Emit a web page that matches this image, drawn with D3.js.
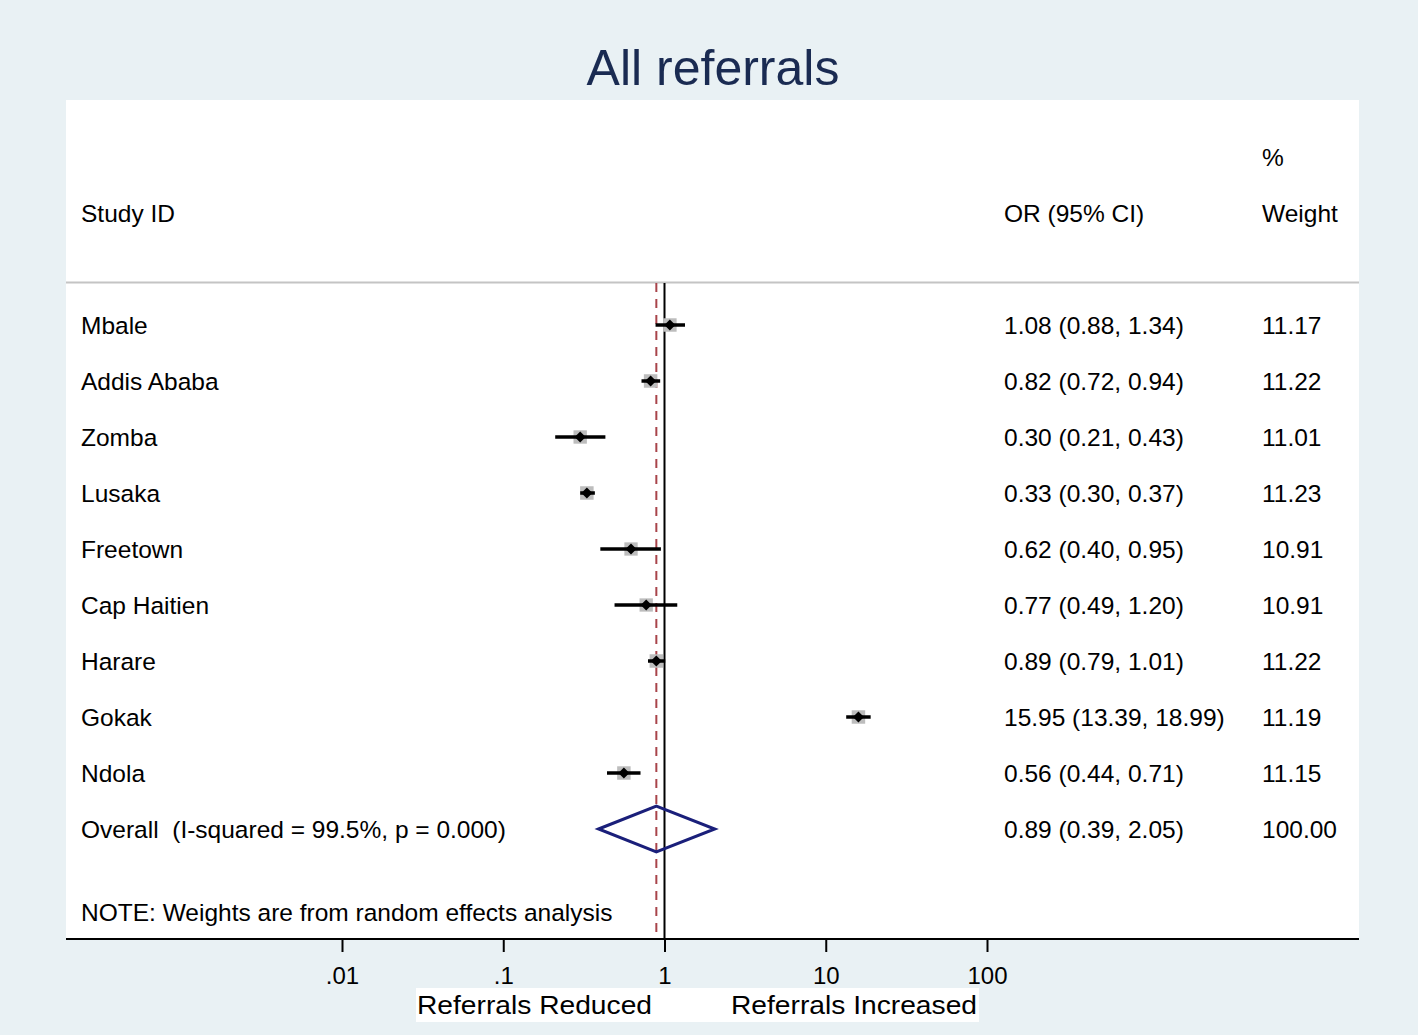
<!DOCTYPE html>
<html>
<head>
<meta charset="utf-8">
<script src="https://cdn.jsdelivr.net/npm/d3@7"></script>
<style>
  html, body { margin: 0; padding: 0; background: #e9f1f4; }
  svg { display: block; font-family: "Liberation Sans", Arial, sans-serif; }
</style>
</head>
<body>
<svg id="chart" width="1418" height="1035"></svg>
<script>
const studies = ["Mbale", "Addis Ababa", "Zomba", "Lusaka", "Freetown", "Cap Haitien", "Harare", "Gokak", "Ndola"];
const orValues = [1.08, 0.82, 0.30, 0.33, 0.62, 0.77, 0.89, 15.95, 0.56];
const ciLow = [0.88, 0.72, 0.21, 0.30, 0.40, 0.49, 0.79, 13.39, 0.44];
const ciHigh = [1.34, 0.94, 0.43, 0.37, 0.95, 1.20, 1.01, 18.99, 0.71];
const weights = [11.17, 11.22, 11.01, 11.23, 10.91, 10.91, 11.22, 11.19, 11.15];
const overall = { label: "Overall  (I-squared = 99.5%, p = 0.000)", or: 0.89, lo: 0.39, hi: 2.05, weight: 100.00 };
const tickValues = [0.01, 0.1, 1, 10, 100];
const tickLabels = [".01", ".1", "1", "10", "100"];

const svg = d3.select("#chart");
const W = 1418, H = 1035;
svg.append("rect").attr("width", W).attr("height", H).attr("fill", "#e9f1f4");

const panel = { left: 66, right: 1359, top: 100, bottom: 939 };
svg.append("rect")
  .attr("x", panel.left).attr("y", panel.top)
  .attr("width", panel.right - panel.left).attr("height", panel.bottom - panel.top)
  .attr("fill", "#ffffff");

// Title
svg.append("text").attr("x", 713).attr("y", 85).attr("text-anchor", "middle")
  .attr("font-size", 50).attr("fill", "#1a2b52").text("All referrals");

// x scale (log)
const x = d3.scaleLog().domain([0.01, 100]).range([342, 987]);

// row scale
const rowKeys = studies.concat(["Overall"]);
const y = d3.scalePoint().domain(rowKeys).range([325, 829]);

const textColor = "#000000";
const fs = 24.5;

// Header
const headerY = 222;
svg.append("text").attr("x", 81).attr("y", headerY).attr("font-size", fs).attr("fill", textColor).text("Study ID");
svg.append("text").attr("x", 1004).attr("y", headerY).attr("font-size", fs).attr("fill", textColor).text("OR (95% CI)");
svg.append("text").attr("x", 1262).attr("y", 166).attr("font-size", fs).attr("fill", textColor).text("%");
svg.append("text").attr("x", 1262).attr("y", headerY).attr("font-size", fs).attr("fill", textColor).text("Weight");

// header separator
svg.append("line").attr("x1", panel.left).attr("x2", panel.right).attr("y1", 282.5).attr("y2", 282.5)
  .attr("stroke", "#c4c4c4").attr("stroke-width", 2);

// null line at 1
svg.append("line").attr("x1", x(1)).attr("x2", x(1)).attr("y1", 283).attr("y2", panel.bottom)
  .attr("stroke", "#000").attr("stroke-width", 2);

// overall dashed line
svg.append("line").attr("x1", x(overall.or)).attr("x2", x(overall.or)).attr("y1", 283).attr("y2", panel.bottom)
  .attr("stroke", "#a8444a").attr("stroke-width", 2).attr("stroke-dasharray", "9,7");

// Weight squares
const side = d3.scaleSqrt().domain([0, 11.23]).range([0, 13.5]);
const rows = studies.map((s, i) => ({ s, or: orValues[i], lo: ciLow[i], hi: ciHigh[i], w: weights[i] }));

svg.append("g").selectAll("rect").data(rows).join("rect")
  .attr("x", d => x(d.or) - side(d.w) / 2)
  .attr("y", d => y(d.s) - side(d.w) / 2)
  .attr("width", d => side(d.w)).attr("height", d => side(d.w))
  .attr("fill", "#bdbdbd");

// CI lines
svg.append("g").selectAll("line").data(rows).join("line")
  .attr("x1", d => x(d.lo)).attr("x2", d => x(d.hi))
  .attr("y1", d => y(d.s)).attr("y2", d => y(d.s))
  .attr("stroke", "#000").attr("stroke-width", 3.5);

// point markers (small diamonds)
svg.append("g").selectAll("path").data(rows).join("path")
  .attr("d", d => {
    const cx = x(d.or), cy = y(d.s), r = 5.5;
    return `M${cx - r},${cy}L${cx},${cy - r}L${cx + r},${cy}L${cx},${cy + r}Z`;
  })
  .attr("fill", "#000");

// Overall diamond
const oy = y("Overall");
svg.append("path")
  .attr("d", `M${x(overall.lo)},${oy}L${x(overall.or)},${oy - 23}L${x(overall.hi)},${oy}L${x(overall.or)},${oy + 23}Z`)
  .attr("fill", "none").attr("stroke", "#1a1f7a").attr("stroke-width", 3);

// Row labels and values
const fmt = v => v.toFixed(2);
const textRows = rows.map(d => ({ key: d.s, label: d.s, ci: `${fmt(d.or)} (${fmt(d.lo)}, ${fmt(d.hi)})`, w: fmt(d.w) }));
textRows.push({ key: "Overall", label: overall.label, ci: `${fmt(overall.or)} (${fmt(overall.lo)}, ${fmt(overall.hi)})`, w: fmt(overall.weight) });

const tg = svg.append("g").attr("font-size", fs).attr("fill", textColor);
tg.selectAll("text.lab").data(textRows).join("text").attr("class", "lab")
  .attr("x", 81).attr("y", d => y(d.key) + 9).attr("xml:space", "preserve").style("white-space", "pre").text(d => d.label);
tg.selectAll("text.ci").data(textRows).join("text").attr("class", "ci")
  .attr("x", 1004).attr("y", d => y(d.key) + 9).text(d => d.ci);
tg.selectAll("text.w").data(textRows).join("text").attr("class", "w")
  .attr("x", 1262).attr("y", d => y(d.key) + 9).text(d => d.w);

// Note
svg.append("text").attr("x", 81).attr("y", 921).attr("font-size", fs).attr("fill", textColor)
  .text("NOTE: Weights are from random effects analysis");

// Axis line
svg.append("line").attr("x1", panel.left).attr("x2", panel.right).attr("y1", panel.bottom).attr("y2", panel.bottom)
  .attr("stroke", "#000").attr("stroke-width", 2);

const axis = d3.axisBottom(x).tickValues(tickValues).tickFormat((d, i) => tickLabels[i]).tickSize(13);
const ag = svg.append("g").attr("transform", `translate(0,${panel.bottom})`).call(axis);
ag.select(".domain").remove();
ag.selectAll(".tick line").attr("stroke", "#000").attr("stroke-width", 2);
ag.selectAll(".tick text").attr("y", 45).attr("dy", 0).attr("font-size", 24).attr("fill", "#000")
  .attr("font-family", "Liberation Sans, Arial, sans-serif");

// Bottom labels
svg.append("rect").attr("x", 416).attr("y", 988).attr("width", 563).attr("height", 34).attr("fill", "#ffffff");
svg.append("text").attr("x", 417).attr("y", 1014).attr("font-size", 25.5).attr("fill", "#000")
  .attr("textLength", 235).attr("lengthAdjust", "spacingAndGlyphs").text("Referrals Reduced");
svg.append("text").attr("x", 731).attr("y", 1014).attr("font-size", 25.5).attr("fill", "#000")
  .attr("textLength", 246).attr("lengthAdjust", "spacingAndGlyphs").text("Referrals Increased");
</script>
</body>
</html>
